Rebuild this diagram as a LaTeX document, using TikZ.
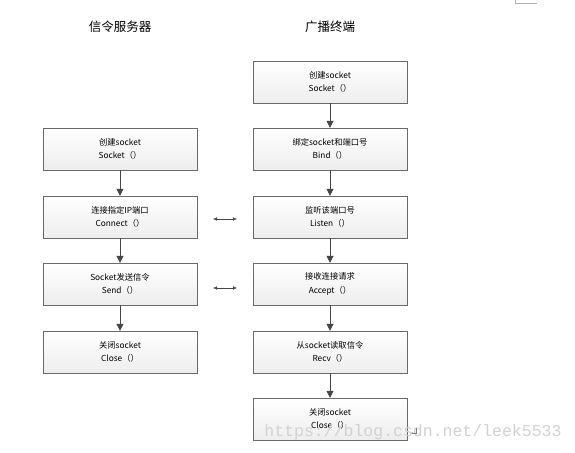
\documentclass[tikz,border=0pt]{standalone}
\usepackage{fontspec}
\setmainfont{Noto Sans CJK SC}
\newfontfamily\markfont{Liberation Mono}
\usetikzlibrary{arrows.meta,shadows}
\definecolor{boxline}{RGB}{105,105,105}
\definecolor{arrline}{RGB}{70,70,70}

\begin{document}
\begin{tikzpicture}[x=1pt, y=-1pt,
    flowbox/.style={rectangle, draw=boxline, top color=white, bottom color=gray!14,
                 minimum width=154pt, minimum height=42pt, align=center,
                 font=\fontsize{8.3}{13.5}\selectfont, drop shadow={opacity=0.15, shadow xshift=1pt, shadow yshift=-1pt}},
    coltitle/.style={font=\fontsize{12.5}{14}\selectfont},
    flow/.style={-{Triangle[length=7pt, width=7pt]}, thick, arrline},
    talk/.style={{Latex[length=4pt, width=3.5pt]}-{Latex[length=4pt, width=3.5pt]}, arrline}
]
    \useasboundingbox[fill=white] (0,0) rectangle (575,452);

    % column titles
    \node[coltitle] (tsrv) at (120,27) {信令服务器};
    \node[coltitle] (tcli) at (330,27) {广播终端};

    % signalling server
    \node[flowbox] (s1) at (120,149) {创建socket\\Socket（）};
    \node[flowbox] (s2) at (120,217) {连接指定IP端口\\Connect（）};
    \node[flowbox] (s3) at (120,284) {Socket发送信令\\Send（）};
    \node[flowbox] (s4) at (120,352) {关闭socket\\Close（）};

    % broadcast terminal
    \node[flowbox] (c1) at (330,82) {创建socket\\Socket（）};
    \node[flowbox] (c2) at (330,149) {绑定socket和端口号\\Bind（）};
    \node[flowbox] (c3) at (330,217) {监听该端口号\\Listen（）};
    \node[flowbox] (c4) at (330,284) {接收连接请求\\Accept（）};
    \node[flowbox] (c5) at (330,352) {从socket读取信令\\Recv（）};
    \node[flowbox] (c6) at (330,419) {关闭socket\\Close（）};

    \draw[flow] (s1) -- (s2);
    \draw[flow] (s2) -- (s3);
    \draw[flow] (s3) -- (s4);
    \foreach \a/\b in {c1/c2, c2/c3, c3/c4, c4/c5, c5/c6}
        \draw[flow] (\a) -- (\b);

    % links between the two sides
    \coordinate (l1a) at (213,219);
    \coordinate (l1b) at (237,219);
    \coordinate (l2a) at (213,288);
    \coordinate (l2b) at (237,288);
    \draw[talk] (l1a) -- (l1b);
    \draw[talk] (l2a) -- (l2b);

    % page marks and watermark
    \draw[gray!60, thick] (515,0) -- (515,3) -- (537,3);
    \node[font=\markfont\fontsize{16.5}{18}\selectfont, text=gray!35, inner sep=0pt] (wm) at (413,432) {https://blog.csdn.net/leek5533};
    \draw[gray, line width=0.4pt, -{Stealth[length=2pt]}] (416,428) -- (416,433) -- (411,433);
\end{tikzpicture}
\end{document}
